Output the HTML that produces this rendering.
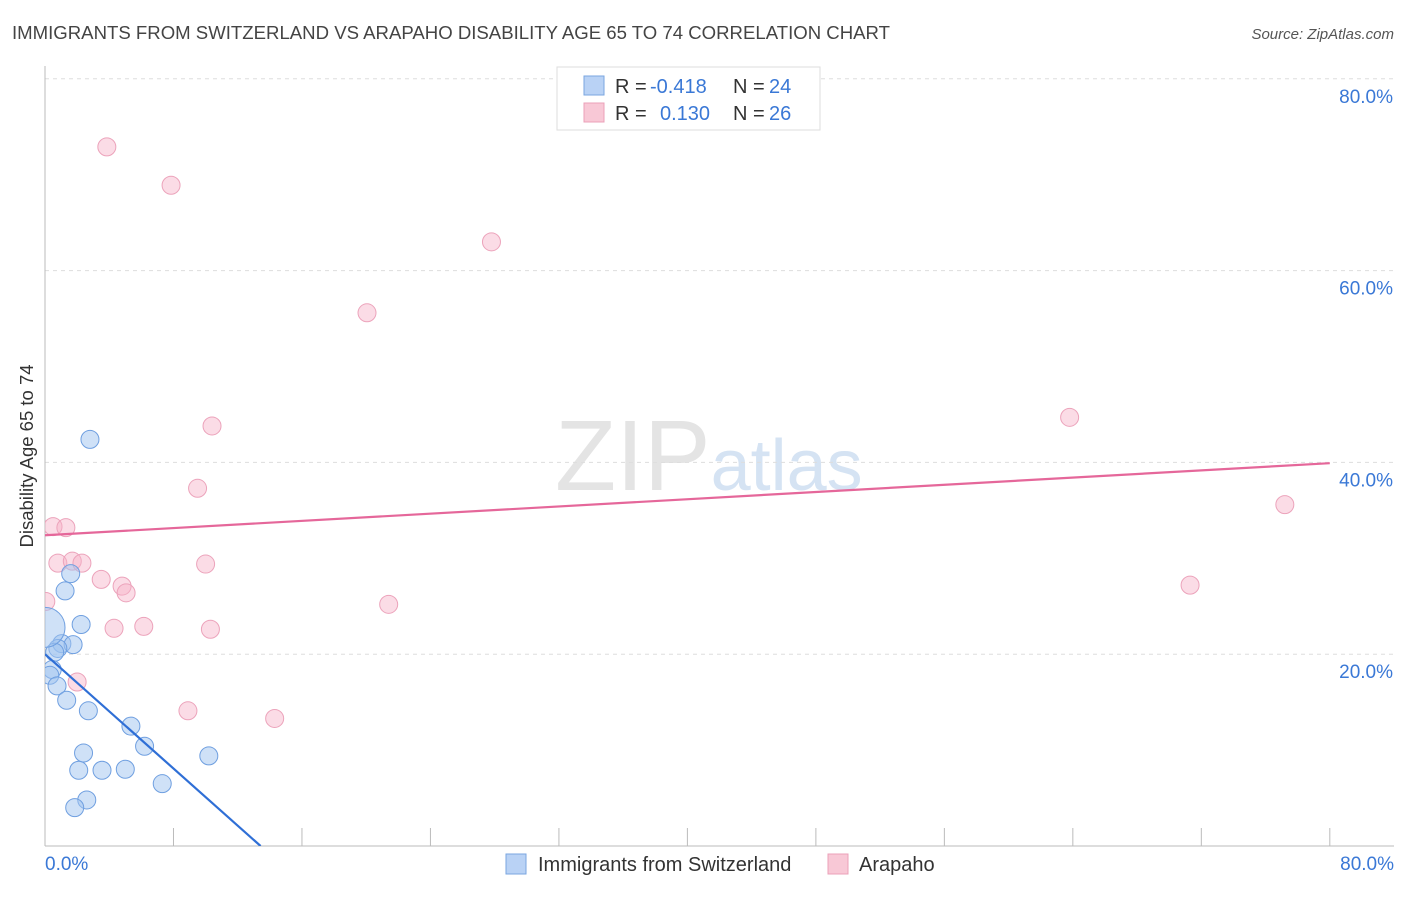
<!DOCTYPE html>
<html><head><meta charset="utf-8"><style>
body{margin:0;background:#fff;font-family:"Liberation Sans",sans-serif;}
svg text{font-family:"Liberation Sans",sans-serif;}
</style></head><body>
<svg id="chart" width="1406" height="892" viewBox="0 0 1406 892" xmlns="http://www.w3.org/2000/svg">
<defs><clipPath id="plotclip"><rect x="45" y="60" width="1360" height="786"/></clipPath></defs>
<text x="12" y="39" font-size="18" fill="#444" textLength="878" lengthAdjust="spacingAndGlyphs">IMMIGRANTS FROM SWITZERLAND VS ARAPAHO DISABILITY AGE 65 TO 74 CORRELATION CHART</text>
<text x="1394" y="39" font-size="15" fill="#555" text-anchor="end" font-style="italic">Source: ZipAtlas.com</text>
<text x="555" y="490" font-size="100" fill="#e4e4e4" font-family="Liberation Serif"><tspan>ZIP</tspan><tspan fill="#d5e3f3" font-family="Liberation Sans" font-size="72">atlas</tspan></text>
<text transform="translate(33,456) rotate(-90)" font-size="18.5" fill="#333" text-anchor="middle">Disability Age 65 to 74</text>
<g id="grid"></g>
<g id="marks" clip-path="url(#plotclip)"></g>
<g>
<rect x="557" y="67" width="263" height="63" fill="#fff" stroke="#ddd"/>
<rect x="584" y="76" width="20" height="19" fill="#b9d2f5" stroke="#7aa6e0"/>
<text x="615" y="93" font-size="20" fill="#333">R =</text>
<text x="650" y="93" font-size="20" fill="#3a78d6">-0.418</text>
<text x="733" y="93" font-size="20" fill="#333">N =</text>
<text x="769" y="93" font-size="20" fill="#3a78d6">24</text>
<rect x="584" y="103" width="20" height="19" fill="#f8c8d6" stroke="#eba0b8"/>
<text x="615" y="120" font-size="20" fill="#333">R =</text>
<text x="660" y="120" font-size="20" fill="#3a78d6">0.130</text>
<text x="733" y="120" font-size="20" fill="#333">N =</text>
<text x="769" y="120" font-size="20" fill="#3a78d6">26</text>
</g>
<g>
<rect x="506" y="854" width="20" height="20" fill="#b9d2f5" stroke="#7aa6e0"/>
<text x="538" y="871" font-size="20" fill="#333">Immigrants from Switzerland</text>
<rect x="828" y="854" width="20" height="20" fill="#f8c8d6" stroke="#eba0b8"/>
<text x="859" y="871" font-size="20" fill="#333">Arapaho</text>
</g>
</svg>
<script>
const blueX=[2.8,1.6,1.25,2.25,1.05,1.75,0.8,0.6,0.45,0.3,0.75,1.35,2.7,5.35,6.2,2.4,2.1,3.55,5.0,10.2,7.3,2.6,1.85,0];
const blueY=[42.4,28.4,26.6,23.1,21.1,21.0,20.6,20.2,18.4,17.8,16.7,15.2,14.1,12.5,10.4,9.7,7.9,7.9,8.0,9.4,6.5,4.8,4.0,22.8];
const pinkX=[3.85,7.85,27.8,20.05,63.8,10.4,9.5,77.2,0.5,1.3,0.8,1.7,2.3,10.0,3.5,4.8,5.05,71.3,0.05,21.4,4.3,6.15,10.3,2.0,8.9,14.3];
const pinkY=[72.9,68.9,63.0,55.6,44.7,43.8,37.3,35.6,33.3,33.2,29.5,29.7,29.5,29.4,27.8,27.1,26.4,27.2,25.5,25.2,22.7,22.9,22.6,17.1,14.1,13.3];
const blueTrend=[20.0,-1.49];
const pinkTrend=[32.4,0.094];
const yTicks=[20,40,60,80];
const xTickLabels=["0.0%","80.0%"];
const NS="http://www.w3.org/2000/svg";
const sx=v=>45+v*16.06, sy=v=>846-v*9.59;
const grid=document.getElementById('grid'), marks=document.getElementById('marks');
function mk(tag,attrs,parent){const e=document.createElementNS(NS,tag);for(const k in attrs)e.setAttribute(k,attrs[k]);parent.appendChild(e);return e;}
yTicks.forEach(t=>{
  const l=mk('line',{x1:45,x2:1394,y1:sy(t),y2:sy(t),stroke:'#ddd','stroke-dasharray':'4,4'},grid);
  
  
  const tx=mk('text',{x:1393,y:sy(t)+24,'font-size':19,fill:'#3a78d6','text-anchor':'end'},grid);
  tx.textContent=t.toFixed(1)+'%';
  
  
});
const ax=mk('line',{x1:45,x2:45,y1:66,y2:846,stroke:'#bbb'},grid);


const bx=mk('line',{x1:45,x2:1394,y1:846,y2:846,stroke:'#bbb'},grid);


for(let i=1;i<=10;i++){
  const tk=mk('line',{x1:sx(i*8),x2:sx(i*8),y1:828,y2:846,stroke:'#bbb'},grid);
  
  
}
[[0,'start',45],[80,'end',1394]].forEach(([v,a,x],i)=>{
  const t=mk('text',{x:x,y:870,'font-size':19,fill:'#3a78d6','text-anchor':a},grid);
  t.textContent=xTickLabels[i];
  
  
});
pinkX.forEach((x,i)=>{
  const c=mk('circle',{cx:sx(x),cy:sy(pinkY[i]),r:9,fill:'rgba(246,178,200,0.45)',stroke:'#eca3bb','stroke-width':1},marks);
  
  
});
blueX.forEach((x,i)=>{
  const big=i===blueX.length-1;
  const c=mk('circle',{cx:sx(x),cy:sy(blueY[i]),r:big?20:9,fill:'rgba(160,195,240,0.5)',stroke:'#6f9fe0','stroke-width':1},marks);
  
  
});
const pl=mk('line',{x1:sx(0),y1:sy(pinkTrend[0]),x2:sx(80),y2:sy(pinkTrend[0]+pinkTrend[1]*80),stroke:'#e5679a','stroke-width':2.2},marks);


const xEnd=-blueTrend[0]/blueTrend[1];
const bl=mk('line',{x1:sx(0),y1:sy(blueTrend[0]),x2:sx(xEnd),y2:sy(0),stroke:'#2f6fd6','stroke-width':2.2},marks);


</script>
</body></html>
